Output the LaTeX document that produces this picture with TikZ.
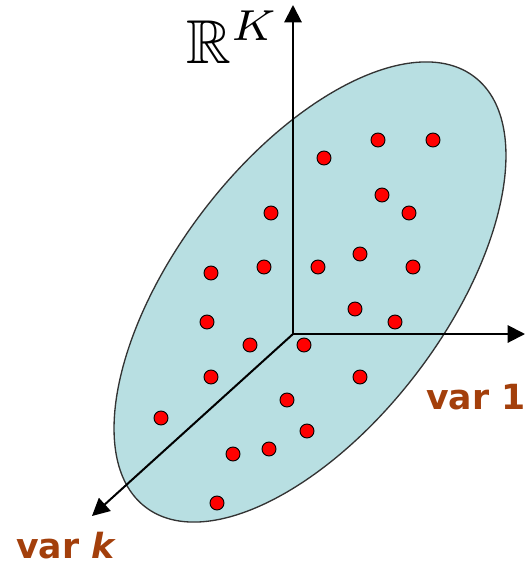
\documentclass[tikz,border=0pt]{standalone}
\usepackage{amssymb}
\usepackage{graphicx}
\usepackage{fontspec}
\newfontfamily\labfont{DejaVu Sans}
\usetikzlibrary{arrows.meta}
\definecolor{ellfill}{HTML}{B8DFE2}
\definecolor{labbrown}{HTML}{A33F0B}
\tikzset{
  dot/.style={circle, fill=red, draw=black, line width=0.7pt, inner sep=0pt, minimum size=10.5pt},
  axis/.style={line width=1.5pt, -{Triangle[length=13pt, width=13pt]}},
  varlabel/.style={text=labbrown, font=\labfont\bfseries\fontsize{26}{28}\selectfont, inner sep=0pt, anchor=base west}
}
\begin{document}
\begin{tikzpicture}[x=0.75pt, y=-0.75pt]
\useasboundingbox (0,0) rectangle (525,569);
% ellipse
\filldraw[fill=ellfill, draw=black!80, line width=1pt, rotate around={52.6:(310,292)}]
  (310,292) ellipse [x radius=270.8, y radius=134.1];
% axes
\coordinate (O) at (293,334);
\coordinate (top) at (293,5);
\coordinate (right) at (525,334);
\coordinate (diag) at (92,516);
\draw[axis] (O) -- (top);
\draw[axis] (O) -- (right);
\draw[axis] (O) -- (diag);
% dots
\foreach \x/\y [count=\i] in {378/140, 433/140, 324/158, 382/195, 409/213, 271/213,
  360/254, 211/273, 264/267, 318/267, 413/267, 355/309, 395/322, 207/322,
  250/345, 304/345, 211/377, 360/377, 287/400, 161/418, 307/431, 269/449,
  233/454, 217/503}
  \node[dot] (d\i) at (\x,\y) {};
% labels
\node[varlabel] (v1) at (426,409) {var 1};
\node[varlabel] (vk) at (16,558) {var \textit{k}};
\node[inner sep=0pt, anchor=base west] (RK) at (186,63) {\scalebox{4.65}{$\mathbb{R}^{K}$}};
\end{tikzpicture}
\end{document}
